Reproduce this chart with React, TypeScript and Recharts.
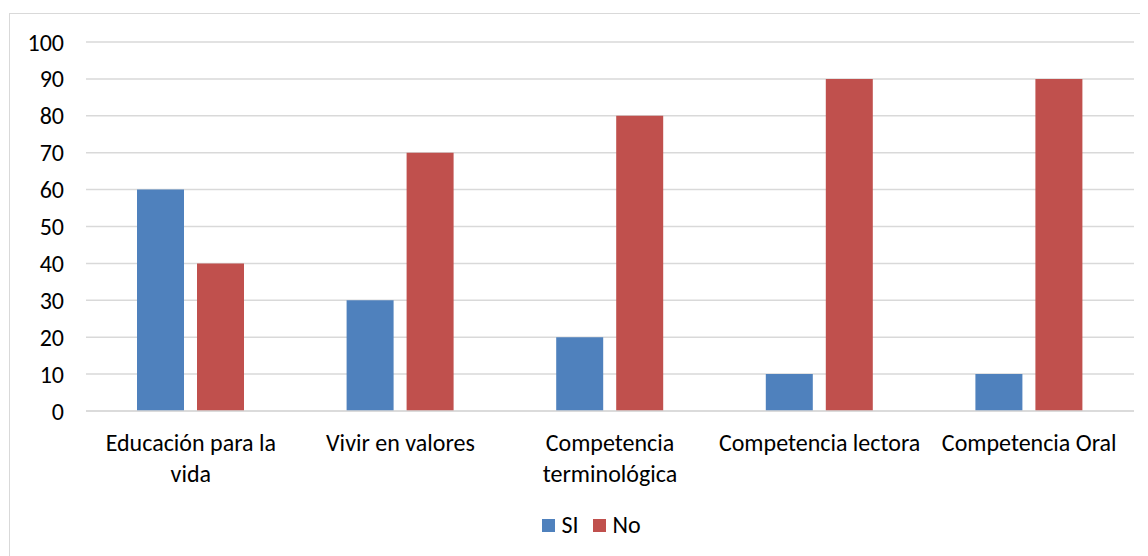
import React from "react";
import { BarChart, Bar, XAxis, YAxis, CartesianGrid, Legend } from "recharts";

const categories = [
  "Educación para la vida",
  "Vivir en valores",
  "Competencia terminológica",
  "Competencia lectora",
  "Competencia Oral",
];
const categoryLines: string[][] = [
  ["Educación para la", "vida"],
  ["Vivir en valores"],
  ["Competencia", "terminológica"],
  ["Competencia lectora"],
  ["Competencia Oral"],
];
const siValues = [60, 30, 20, 10, 10];
const noValues = [40, 70, 80, 90, 90];
const yTicks = [0, 10, 20, 30, 40, 50, 60, 70, 80, 90, 100];
const seriesNames = ["SI", "No"];
const seriesColors = ["#4F81BD", "#C0504D"];

const data = categories.map((c, i) => ({ name: c, SI: siValues[i], No: noValues[i] }));

const FONT = "Carlito, Lato, sans-serif";
const FS = 24;

const XTick = (props: any) => {
  const { x, y, payload } = props;
  const idx = categories.indexOf(payload.value);
  const lines = idx >= 0 ? categoryLines[idx] : [payload.value];
  return (
    <g>
      {lines.map((l, i) => (
        <text
          key={i}
          x={x}
          y={y + 38 + i * 31}
          textAnchor="middle"
          fill="#000"
          fontSize={FS}
          fontFamily={FONT}
        >
          {l}
        </text>
      ))}
    </g>
  );
};

const LegendContent = () => (
  <div style={{ display: "flex", justifyContent: "center", alignItems: "center", height: 18, marginTop: 2, paddingLeft: 54 }}>
    {seriesNames.map((n, i) => (
      <div key={n} style={{ display: "flex", alignItems: "center", marginRight: 15 }}>
        <div style={{ width: 13, height: 13, background: seriesColors[i], marginRight: 6 }} />
        <span style={{ fontFamily: FONT, fontSize: FS, color: "#000", lineHeight: "18px" }}>{n}</span>
      </div>
    ))}
  </div>
);

export default function App() {
  return (
    <div
      style={{
        marginLeft: 1,
        marginTop: 5,
        width: 1139,
        height: 545,
        border: "1px solid #D9D9D9",
        background: "#fff",
      }}
    >
      <BarChart
        width={1139}
        height={540}
        data={data}
        margin={{ top: 28, right: 15, left: 0, bottom: 0 }}
        barGap={13}
        barCategoryGap={51}
      >
        <CartesianGrid vertical={false} stroke="#D9D9D9" strokeWidth={1.5} />
        <XAxis
          dataKey="name"
          height={103}
          axisLine={{ stroke: "#D9D9D9", strokeWidth: 1.5 }}
          tickLine={false}
          tickSize={0}
          tick={<XTick />}
          interval={0}
        />
        <YAxis
          width={76}
          domain={[0, 100]}
          ticks={yTicks}
          axisLine={false}
          tickLine={false}
          tickSize={0}
          tickMargin={22}
          tick={{ fill: "#000", fontSize: FS, fontFamily: FONT }}
          interval={0}
        />
        <Legend verticalAlign="bottom" height={40} content={<LegendContent />} />
        <Bar dataKey="SI" fill={seriesColors[0]} isAnimationActive={false} />
        <Bar dataKey="No" fill={seriesColors[1]} isAnimationActive={false} />
      </BarChart>
    </div>
  );
}
